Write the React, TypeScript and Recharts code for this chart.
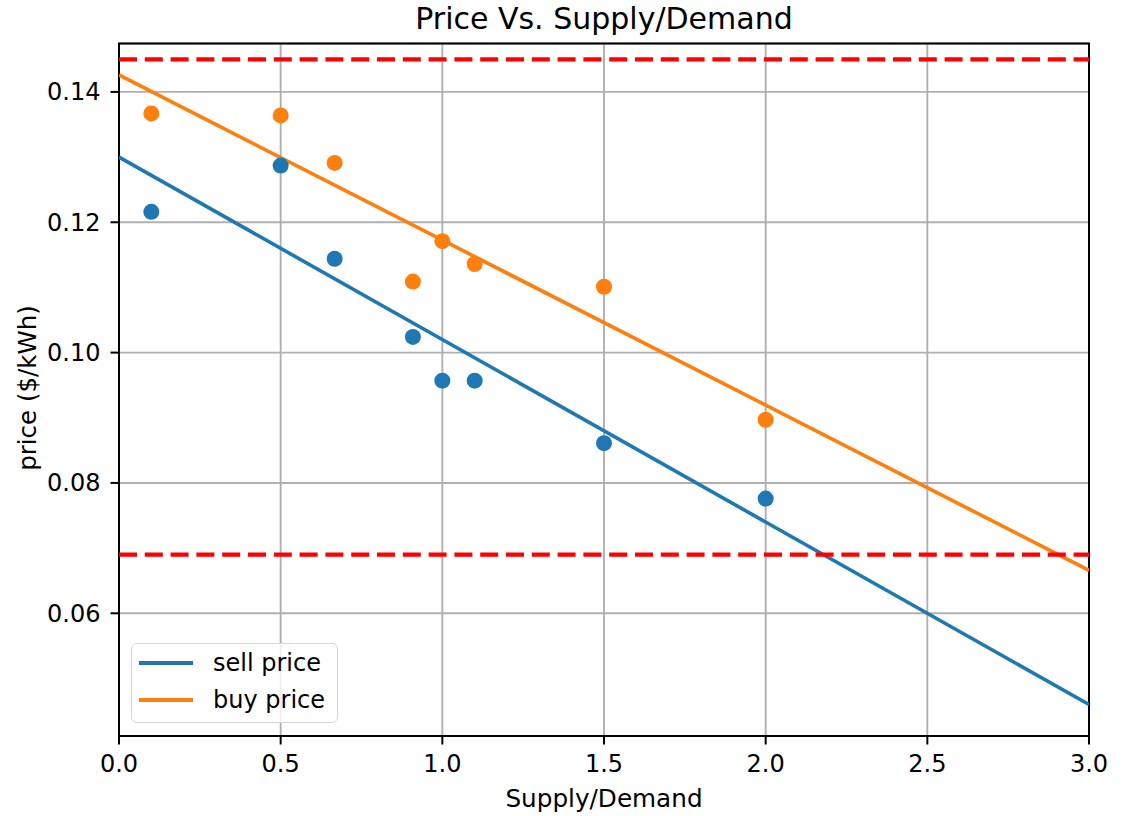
import React from 'react';
import {
  ComposedChart,
  Line,
  Scatter,
  XAxis,
  YAxis,
  CartesianGrid,
  ReferenceLine,
  ReferenceArea,
  Legend,
  Label,
} from 'recharts';

const FONT = '"DejaVu Sans", Verdana, sans-serif';

// ---- data ----
const supplyDemand = [0.1, 0.5, 0.667, 0.909, 1.0, 1.1, 1.5, 2.0];
const sellPrices = [0.1216, 0.1287, 0.1144, 0.1024, 0.0957, 0.0957, 0.0861, 0.0776];
const buyPrices = [0.1367, 0.1364, 0.1291, 0.1109, 0.1171, 0.1136, 0.1101, 0.0897];
const fitX = [0, 3];
const sellFit = [0.13, 0.046];
const buyFit = [0.1426, 0.0666];
const priceLimits = [0.145, 0.069];
const xTicks = [0, 0.5, 1, 1.5, 2, 2.5, 3];
const yTicks = [0.06, 0.08, 0.1, 0.12, 0.14];
const seriesNames = ['sell price', 'buy price'];
const seriesColors = ['#1f77b4', '#ff7f0e'];
const xDomain = [0, 3];
const yDomain = [0.04117, 0.14743];

const sellPoints = supplyDemand.map((x, i) => ({ x, y: sellPrices[i] }));
const buyPoints = supplyDemand.map((x, i) => ({ x, y: buyPrices[i] }));
const sellLine = fitX.map((x, i) => ({ x, y: sellFit[i] }));
const buyLine = fitX.map((x, i) => ({ x, y: buyFit[i] }));

const tickStyle = { fill: '#000', fontSize: 24, fontFamily: FONT };
const tickLine = { stroke: '#000', strokeWidth: 2 };

const LegendBox = () => (
  <div
    style={{
      position: 'relative',
      width: 207,
      height: 80,
      boxSizing: 'border-box',
      border: '1.6px solid #d6d6d6',
      borderRadius: 6,
      background: 'rgba(255,255,255,0.8)',
      fontFamily: FONT,
      fontSize: 24,
      color: '#000',
    }}
  >
    {seriesNames.map((name, i) => (
      <div
        key={name}
        style={{
          position: 'absolute',
          left: 7,
          top: 0.5 + i * 37,
          height: 37,
          display: 'flex',
          alignItems: 'center',
          whiteSpace: 'nowrap',
        }}
      >
        <div style={{ width: 54, height: 3.6, background: seriesColors[i] }} />
        <span style={{ marginLeft: 20, lineHeight: '37px' }}>{name}</span>
      </div>
    ))}
  </div>
);

const dot = (color: string) => (p: any) => (
  <circle cx={p.cx} cy={p.cy} r={8} fill={color} />
);

export default function App() {
  return (
    <div style={{ position: 'absolute', left: 0, top: 0, width: 1125, height: 816, background: '#fff' }}>
      <div
        style={{
          position: 'absolute',
          left: 304,
          width: 600,
          top: 2,
          textAlign: 'center',
          fontFamily: FONT,
          fontSize: 30,
          lineHeight: '33px',
          color: '#000',
        }}
      >
        Price Vs. Supply/Demand
      </div>
      <ComposedChart
        width={1125}
        height={816}
        margin={{ top: 43.5, right: 36, bottom: 0, left: 0 }}
      >
        <CartesianGrid stroke="#b0b0b0" strokeWidth={1.9} />
        <XAxis
          type="number"
          dataKey="x"
          domain={xDomain}
          ticks={xTicks}
          allowDataOverflow
          height={80}
          axisLine={false}
          tickLine={tickLine}
          tickSize={8.5}
          tickMargin={10}
          tick={tickStyle}
          tickFormatter={(v: number) => v.toFixed(1)}
          label={
            <Label
              content={() => (
                <text x={604} y={798} textAnchor="middle" dominantBaseline="central" fontSize={24.7} fontFamily={FONT} fill="#000">
                  Supply/Demand
                </text>
              )}
            />
          }
        />
        <YAxis
          type="number"
          domain={yDomain}
          ticks={yTicks}
          allowDataOverflow
          width={119}
          axisLine={false}
          tickLine={tickLine}
          tickSize={8.5}
          tickMargin={10}
          tick={tickStyle}
          tickFormatter={(v: number) => v.toFixed(2)}
          label={
            <Label
              content={() => (
                <text
                  x={27}
                  y={388}
                  transform="rotate(-90, 27, 388)"
                  textAnchor="middle"
                  dominantBaseline="central"
                  fontSize={24.5}
                  fontFamily={FONT}
                  fill="#000"
                >
                  price ($/kWh)
                </text>
              )}
            />
          }
        />
        <Line data={sellLine} dataKey="y" type="linear" stroke={seriesColors[0]} strokeWidth={3.6} dot={false} activeDot={false} isAnimationActive={false} />
        <Line data={buyLine} dataKey="y" type="linear" stroke={seriesColors[1]} strokeWidth={3.6} dot={false} activeDot={false} isAnimationActive={false} />
        <Scatter data={sellPoints} dataKey="y" fill={seriesColors[0]} shape={dot(seriesColors[0])} isAnimationActive={false} />
        <Scatter data={buyPoints} dataKey="y" fill={seriesColors[1]} shape={dot(seriesColors[1])} isAnimationActive={false} />
        {priceLimits.map((v) => (
          <ReferenceLine key={v} y={v} stroke="#ff0000" strokeWidth={4.4} strokeDasharray="18 7.8" />
        ))}
        <ReferenceArea x1={xDomain[0]} x2={xDomain[1]} y1={yDomain[0]} y2={yDomain[1]} fill="none" fillOpacity={0} stroke="#000" strokeWidth={2} />
        <Legend
          layout="vertical"
          align="center"
          verticalAlign="middle"
          wrapperStyle={{ left: 131, top: 643, width: 207, height: 80 }}
          content={() => <LegendBox />}
        />
      </ComposedChart>
    </div>
  );
}
